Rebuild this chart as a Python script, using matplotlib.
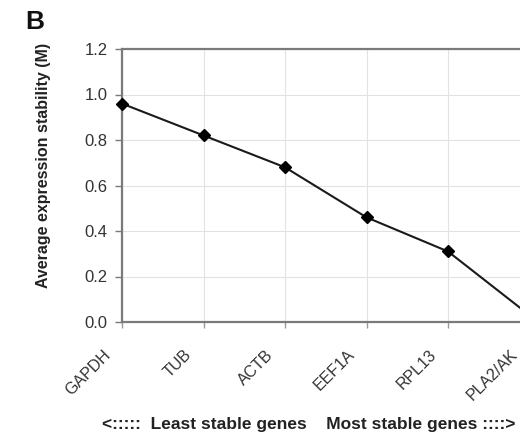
import matplotlib
matplotlib.use("Agg")
import matplotlib.pyplot as plt
from matplotlib.transforms import ScaledTranslation

plt.rcParams['font.family'] = ['Liberation Sans', 'DejaVu Sans']

genes = ["GAPDH", "TUB", "ACTB", "EEF1A", "RPL13", "PLA2/AK"]
stability_m = [0.96, 0.82, 0.68, 0.46, 0.31, 0.03]
y_ticks = [0.0, 0.2, 0.4, 0.6, 0.8, 1.0, 1.2]

W, H = 520, 438
fig = plt.figure(figsize=(W / 100, H / 100), dpi=100)

# axes deliberately run past the right edge of the canvas
left, right, top, bottom = 122, 529.5, 49, 322
ax = fig.add_axes([left / W, 1 - bottom / H, (right - left) / W, (bottom - top) / H])

x = list(range(len(genes)))
ax.plot(x, stability_m, color='#1a1a1a', lw=1.5, marker='D', ms=6,
        mfc='black', mec='black', zorder=3, clip_on=False)

ax.set_xlim(0, len(genes) - 1)
ax.set_ylim(0, 1.2)
ax.set_yticks(y_ticks)
ax.set_yticklabels([f"{v:.1f}" for v in y_ticks], fontsize=12, color='#333333')
ax.set_xticks(x)
ax.set_xticklabels(genes, fontsize=11.5, color='#333333', rotation=45,
                   ha='right', va='top', rotation_mode='anchor')

ax.grid(True, color='#e2e2e2', lw=0.8)
ax.set_axisbelow(True)

for side in ('left', 'bottom', 'top'):
    ax.spines[side].set_color('#7a7a7a')
    ax.spines[side].set_linewidth(1.6)
ax.spines['right'].set_visible(False)

ax.tick_params(axis='y', length=5, width=1, color='#7a7a7a', pad=5.5)
ax.tick_params(axis='x', length=4, width=1, color='#9a9a9a', pad=14)

shift = ScaledTranslation(-14 / 72, 0, fig.dpi_scale_trans)
for lab in ax.get_xticklabels():
    lab.set_transform(lab.get_transform() + shift)

ax.set_ylabel("Average expression stability (M)", fontsize=11.5, fontweight='bold',
              color='#222222')
ax.yaxis.set_label_coords((51 - left) / (right - left), (bottom - 165) / (bottom - top))

fig.text(35 / W, 1 - 22 / H, "B", fontsize=19, fontweight='bold', color='#111111',
         ha='center', va='center')
fig.text(309 / W, 1 - 425 / H,
         "<:::::  Least stable genes    Most stable genes ::::>",
         fontsize=12.5, fontweight='bold', color='#222222', ha='center', va='center')

fig.savefig("out.png", dpi=100)
